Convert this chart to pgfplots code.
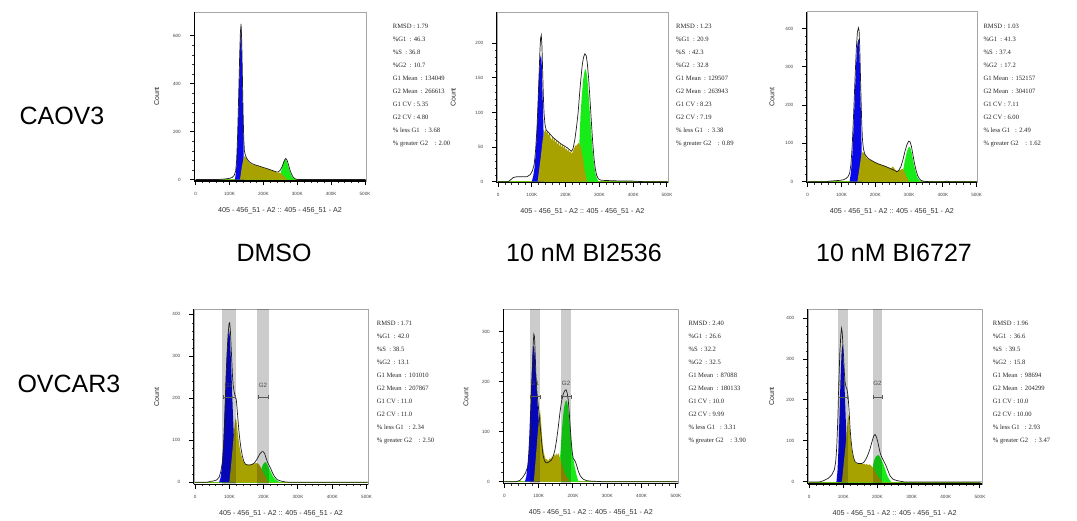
\documentclass[border=0pt]{standalone}
\usepackage{fontspec}
\setmainfont{Liberation Sans}
\newfontfamily\statfont{Liberation Serif}
\usepackage{pgfplots}
\pgfplotsset{compat=1.18}

\definecolor{g1blue}{RGB}{8,8,232}
\definecolor{sphase}{RGB}{168,162,0}
\definecolor{g2green}{RGB}{24,236,24}
\definecolor{curve}{RGB}{30,30,30}

\pgfplotsset{
  flow/.style={
    scale only axis, anchor=south west, clip=false,
    axis line style={black!35, line width=0.4pt},
    xtick={0,100,200,300,400,500},
    xticklabels={0,100K,200K,300K,400K,500K},
    minor x tick num=4, minor y tick num=4,
    tick align=outside, tick pos=left,
    major tick length=4.5pt, minor tick length=2.2pt,
    major tick style={black, line width=1pt},
    minor tick style={black!80, line width=0.4pt},
    xticklabel style={font=\fontsize{4.6}{5}\selectfont, text=black!75, yshift=-3pt},
    yticklabel style={font=\fontsize{4.6}{5}\selectfont, text=black!75, xshift=-5.5pt},
    /pgf/number format/assume math mode=true,
    xlabel={405 - 456\_51 - A2 :: 405 - 456\_51 - A2},
    xlabel style={at={(axis description cs:0.5,0)}, anchor=center, yshift=-29.5pt,
      font=\fontsize{7.2}{8}\selectfont, text=black!80},
  },
  g1/.style={fill=g1blue, draw=none},
  g2/.style={fill=g2green, draw=none},
  sp/.style={fill=sphase, draw=none},
  fit/.style={curve, line width=0.7pt},
}

% left and bottom axis lines
\newcommand{\flowframe}{%
  \draw[black, line width=0.5pt] (rel axis cs:0,0) -- (rel axis cs:0,1);
  \draw[black, line width=1.1pt] (rel axis cs:0,0) -- (rel axis cs:1,0);
  \addplot[sphase!60!g2green, line width=0.5pt] coordinates {(0,0) (500,0)};
}
% gate bracket: x1, x2, y
\newcommand{\gate}[3]{%
  \draw[black!65, line width=0.5pt] (axis cs:#1,#3) -- (axis cs:#2,#3);
  \draw[black!65, line width=0.5pt] (axis cs:#1,#3) ++(0pt,-2.2pt) -- ++(0pt,4.4pt);
  \draw[black!65, line width=0.5pt] (axis cs:#2,#3) ++(0pt,-2.2pt) -- ++(0pt,4.4pt);
}
% statistics column: x, baseline of first line (px from top), lines
\newcommand{\stats}[3]{%
  \foreach \t [count=\i from 0] in {#3} {
    \node[anchor=base west, inner sep=0pt, font=\statfont\fontsize{6.6}{8}\selectfont, text=black!85]
      at (#1pt, {(521-#2-13*\i)*1pt}) {\t};
  }
}

\begin{document}
\begin{tikzpicture}
\path[use as bounding box, fill=white] (0,0) rectangle (1077pt,521pt);

% ---------------- row labels and column titles
\node[anchor=west, font=\fontsize{25}{30}\selectfont] at (16pt,405pt) {CAOV3};
\node[anchor=west, font=\fontsize{25}{30}\selectfont] at (14pt,137pt) {OVCAR3};
\node[font=\fontsize{25}{30}\selectfont] at (274pt,268pt) {DMSO};
\node[font=\fontsize{25}{30}\selectfont] at (584pt,268pt) {10 nM BI2536};
\node[font=\fontsize{25}{30}\selectfont] at (894pt,268pt) {10 nM BI6727};

% ---------------- Count labels
\foreach \x/\y in {156.7/424.5, 453.3/423.5, 772/424, 156.7/124, 466/124, 771.7/124.5}
  \node[rotate=90, font=\fontsize{7}{8}\selectfont, text=black!85] at (\x pt,\y pt) {Count};

% ================= CAOV3 / DMSO
\begin{axis}[flow, at={(194.3pt,340pt)}, width=171.4pt, height=169pt,
  xmin=-4, xmax=502, ymin=-6, ymax=698, ytick={0,200,400,600}]
\flowframe
\addplot[g1] coordinates {(116,0) (119,30) (122,100) (125,220) (128,380) (131,540) (133,625) (134.5,630) (136,540) (138,390) (140,250) (141.5,160) (142,0)} -- cycle;
\addplot[g2] coordinates {(249,0) (251,25) (254,45) (257,62) (260,75) (263,82) (266,83) (269,76) (272,62) (276,44) (280,27) (284,14) (289,5) (294,0)} -- cycle;
\addplot[sp] coordinates {(131,0) (136,50) (140,80) (143,97) (146,95) (150,86) (155,76) (160,68) (165,64) (170,61) (175,60) (180,57) (185,58) (190,54) (195,52) (200,49) (205,47) (210,45) (215,43) (220,40) (225,38) (230,35) (235,33) (240,30) (245,30) (250,27) (255,22) (260,14) (265,7) (270,0)} -- cycle;
\addplot[fit] coordinates {(0,0) (60,0) (75,1) (90,3) (100,5) (108,9) (114,18) (118,35) (121,80) (124,190) (127,350) (130,520) (132,610) (134,648) (136,580) (138,430) (140,280) (142,170) (144,118) (147,100) (151,88) (156,78) (162,70) (170,64) (180,59) (190,55) (200,50) (210,46) (220,41) (230,36) (238,32) (244,32) (249,38) (254,50) (258,64) (262,80) (266,88) (270,80) (274,62) (278,42) (282,26) (287,12) (292,4) (298,1) (306,0) (502,0)};
\end{axis}

% ================= CAOV3 / BI2536
\begin{axis}[flow, at={(496.7pt,338.3pt)}, width=171.3pt, height=170.4pt,
  xmin=-4, xmax=503, ymin=-1.5, ymax=245, ytick={0,50,100,150,200}]
\flowframe
\addplot[g1] coordinates {(100,0) (104,8) (108,20) (112,45) (116,85) (119,125) (122,160) (125,180) (127,183) (129,175) (131,140) (133,105) (134.5,75) (135,0)} -- cycle;
\addplot[g2] coordinates {(236,0) (238,30) (241,60) (244,95) (248,125) (252,148) (256,160) (259,163) (262,158) (265,145) (268,125) (272,98) (276,70) (280,45) (284,26) (288,12) (293,4) (298,0)} -- cycle;
\addplot[sp] coordinates {(117,0) (125,30) (132,60) (137,72) (140,76) (143,70) (146,74) (149,66) (152,71) (155,64) (158,60) (161,66) (164,58) (167,63) (170,56) (173,60) (176,53) (179,58) (182,51) (185,55) (188,49) (191,54) (194,48) (197,51) (200,46) (203,48) (206,44) (209,46) (212,42) (215,44) (218,40) (221,43) (224,47) (227,50) (230,53) (233,52) (236,55) (239,56) (242,54) (245,50) (248,42) (252,30) (256,17) (260,7) (264,0)} -- cycle;
\addplot[fit] coordinates {(0,0) (30,0) (38,3) (45,6) (55,7) (70,7) (85,7) (95,10) (102,16) (107,25) (111,45) (115,75) (118,110) (121,150) (124,190) (126,208) (128,212) (130,195) (132,160) (134,125) (136,100) (139,82) (143,74) (148,72) (155,68) (165,63) (175,59) (185,55) (195,52) (205,49) (212,46) (218,44) (222,48) (227,60) (232,78) (237,100) (241,125) (245,148) (249,168) (253,180) (257,185) (261,182) (264,172) (268,150) (272,120) (276,88) (280,58) (284,34) (288,18) (292,9) (297,4) (305,2) (330,1.5) (360,1) (390,1) (410,0.5) (430,0) (503,0)};
\end{axis}

% ================= CAOV3 / BI6727
\begin{axis}[flow, at={(806.7pt,338.3pt)}, width=170.3pt, height=171pt,
  xmin=-3, xmax=501, ymin=-2.6, ymax=444, ytick={0,100,200,300,400}]
\flowframe
\addplot[g1] coordinates {(124,0) (128,25) (132,70) (136,150) (140,240) (144,320) (147,360) (150,373) (152,365) (154,310) (156,230) (158,150) (159.5,90) (160,0)} -- cycle;
\addplot[g2] coordinates {(281,0) (283,33) (286,48) (290,65) (294,80) (298,89) (301,91) (304,88) (307,78) (311,60) (315,42) (320,24) (325,11) (330,4) (336,0)} -- cycle;
\addplot[sp] coordinates {(147,0) (152,30) (157,60) (161,76) (165,77) (169,70) (173,64) (177,60) (182,58) (187,56) (192,54) (197,52) (202,50) (207,48) (212,46) (217,45) (222,43) (227,42) (232,40) (237,38) (242,36) (247,35) (252,40) (255,36) (260,30) (265,28) (270,30) (275,31) (280,34) (284,30) (288,22) (292,14) (296,7) (300,0)} -- cycle;
\addplot[fit] coordinates {(0,0) (55,0) (65,1.5) (80,2.5) (95,3.5) (105,5) (113,8) (119,13) (124,22) (128,45) (132,100) (136,180) (140,270) (144,350) (147,390) (150,402) (152,395) (154,350) (156,280) (158,210) (160,150) (162,110) (165,85) (169,72) (174,66) (180,60) (190,55) (200,50) (210,46) (220,43) (230,40) (240,36) (250,32) (258,29) (264,26) (270,30) (276,40) (282,58) (288,80) (294,98) (299,106) (303,104) (307,92) (311,72) (315,52) (320,32) (325,17) (330,8) (336,3) (345,1) (360,0) (405,0) (412,1.5) (420,0) (501,0)};
\end{axis}

% ================= OVCAR3 / DMSO
\begin{axis}[flow, at={(193.7pt,36.7pt)}, width=174.6pt, height=175pt,
  xmin=-4, xmax=505, ymin=-4.8, ymax=412, ytick={0,100,200,300,400}]
\flowframe
\addplot[g1] coordinates {(70,0) (74,10) (78,35) (82,85) (86,160) (90,250) (94,320) (97,355) (99,363) (101,350) (104,300) (107,240) (110,170) (113,110) (116,60) (118,0)} -- cycle;
\addplot[g2] coordinates {(190,0) (192,22) (195,36) (198,42) (201,46) (204,48) (207,47) (211,42) (215,35) (219,28) (223,21) (228,13) (234,7) (241,3) (248,0)} -- cycle;
\addplot[sp] coordinates {(100,0) (105,40) (110,85) (114,125) (117,148) (119,153) (121,145) (124,120) (127,100) (130,83) (134,66) (138,55) (142,48) (146,44) (150,43) (155,42) (160,42) (165,43) (170,44) (175,45) (180,46) (184,44) (188,40) (192,35) (196,28) (200,21) (205,13) (210,6) (216,0)} -- cycle;
\fill[black, fill opacity=0.2] (axis cs:79,-4.8) rectangle (axis cs:119.5,412);
\fill[black, fill opacity=0.2] (axis cs:181.6,-4.8) rectangle (axis cs:215,412);
\addplot[fit] coordinates {(0,0) (35,0) (44,2) (53,3) (63,5.5) (70,12) (75,25) (80,50) (84,100) (87,170) (90,245) (93,305) (96,350) (99,378) (101,380) (103,360) (105,325) (107,290) (109,255) (111,232) (114,215) (117,205) (120,198) (122,180) (125,150) (128,120) (131,98) (134,80) (138,62) (142,50) (147,43) (153,41) (160,41) (167,43) (173,46) (179,53) (185,62) (190,69) (195,73) (199,73) (203,68) (207,58) (211,48) (216,40) (221,32) (226,22) (232,13) (240,6) (250,3) (262,1) (275,0) (505,0)};
\gate{81}{117}{203}
\gate{183}{214}{203}
\node[font=\fontsize{6.2}{7}\selectfont, text=black!70] at (axis cs:98,232) {G1};
\node[font=\fontsize{6.2}{7}\selectfont, text=black!70] at (axis cs:198,232) {G2};
\end{axis}

% ================= OVCAR3 / BI2536
\begin{axis}[flow, at={(503.3pt,37.3pt)}, width=175pt, height=174.4pt,
  xmin=-3, xmax=507, ymin=-4, ymax=345, ytick={0,100,200,300}]
\flowframe
\addplot[g1] coordinates {(60,0) (64,10) (68,35) (72,80) (76,150) (80,220) (83,262) (85,273) (87,268) (90,240) (93,200) (96,165) (99,135) (102,110) (104,0)} -- cycle;
\addplot[g2] coordinates {(160,0) (162,45) (165,75) (168,105) (171,130) (174,148) (177,158) (180,163) (183,160) (186,148) (189,128) (192,105) (195,82) (198,62) (201,46) (204,34) (207,24) (210,15) (213,7) (216,0)} -- cycle;
\addplot[sp] coordinates {(86,0) (92,50) (97,95) (101,125) (104,143) (106,130) (108,110) (110,90) (112,72) (115,58) (118,50) (121,44) (124,46) (127,41) (130,44) (133,48) (136,44) (139,52) (142,48) (145,55) (148,51) (151,57) (154,52) (157,58) (160,52) (163,45) (167,35) (172,24) (178,14) (185,6) (192,0)} -- cycle;
\fill[black, fill opacity=0.2] (axis cs:75.8,-4) rectangle (axis cs:104,345);
\fill[black, fill opacity=0.2] (axis cs:165,-4) rectangle (axis cs:194,345);
\addplot[fit] coordinates {(0,0) (35,0) (46,3) (55,10) (62,18) (68,30) (73,55) (76,95) (79,160) (82,230) (84,275) (86,295) (88,290) (90,255) (92,215) (95,180) (98,158) (101,138) (104,115) (107,92) (110,70) (113,52) (117,42) (121,38) (126,38) (131,40) (137,43) (142,50) (147,62) (152,82) (157,108) (162,138) (167,162) (172,176) (177,183) (180,184) (183,178) (186,165) (189,140) (192,110) (195,80) (198,58) (201,46) (204,44) (207,40) (211,32) (216,20) (222,11) (230,5) (240,2) (255,1) (275,0.5) (285,0) (507,0)};
\gate{76}{104}{170}
\gate{165}{196}{170}
\node[font=\fontsize{6.2}{7}\selectfont, text=black!70] at (axis cs:89,197) {G1};
\node[font=\fontsize{6.2}{7}\selectfont, text=black!70] at (axis cs:180,197) {G2};
\end{axis}

% ================= OVCAR3 / BI6727
\begin{axis}[flow, at={(807.7pt,37pt)}, width=174pt, height=175pt,
  xmin=-4, xmax=505, ymin=-4.9, ymax=422, ytick={0,100,200,300,400}]
\flowframe
\addplot[g1] coordinates {(80,0) (83,25) (86,80) (89,160) (92,250) (95,315) (97,335) (99,328) (101,295) (103,250) (105,205) (107,160) (109,115) (111,75) (113,35) (114,0)} -- cycle;
\addplot[g2] coordinates {(185,0) (187,40) (190,52) (194,60) (198,64) (202,66) (206,63) (210,57) (214,50) (218,42) (222,32) (226,22) (230,13) (235,6) (240,0)} -- cycle;
\addplot[sp] coordinates {(96,0) (102,50) (108,100) (112,140) (115,167) (117,150) (119,128) (122,100) (125,78) (129,60) (133,50) (137,46) (141,45) (145,47) (149,44) (153,46) (157,43) (161,45) (165,42) (169,44) (173,41) (177,43) (181,40) (185,37) (189,32) (193,26) (198,18) (204,10) (210,4) (216,0)} -- cycle;
\fill[black, fill opacity=0.2] (axis cs:84,-4.9) rectangle (axis cs:113,422);
\fill[black, fill opacity=0.2] (axis cs:188,-4.9) rectangle (axis cs:212.6,422);
\addplot[fit] coordinates {(0,0) (30,0) (42,3) (56,9) (66,17) (74,30) (78,50) (81,86) (84,150) (87,240) (90,315) (93,360) (95,375) (97,365) (99,335) (101,305) (103,270) (105,245) (108,232) (111,226) (114,210) (117,175) (120,130) (123,100) (126,78) (130,60) (134,50) (140,46) (147,45) (154,45) (160,48) (166,55) (172,66) (178,80) (184,98) (189,112) (193,116) (197,110) (201,98) (205,82) (209,68) (214,58) (219,50) (225,40) (231,27) (237,15) (245,7) (255,4) (265,2) (280,0) (505,0)};
\gate{84}{113}{207}
\gate{188}{213}{207}
\node[font=\fontsize{6.2}{7}\selectfont, text=black!70] at (axis cs:97,241) {G1};
\node[font=\fontsize{6.2}{7}\selectfont, text=black!70] at (axis cs:200,241) {G2};
\end{axis}

% ---------------- model statistics
\stats{392.7}{29}{RMSD : 1.79, \%G1\ \ : 46.3, \%S\ \ : 36.8, \%G2\ \ : 10.7, G1 Mean\ \ : 134049, G2 Mean\ \ : 266613, G1 CV : 5.35, G2 CV : 4.80, \% less G1\ \ \ : 3.68, \% greater G2\ \ \ \ : 2.00}
\stats{676}{29}{RMSD : 1.23, \%G1\ \ : 20.9, \%S\ \ : 42.3, \%G2\ \ : 32.8, G1 Mean\ \ : 129507, G2 Mean\ \ : 263943, G1 CV : 8.23, G2 CV : 7.19, \% less G1\ \ \ : 3.38, \% greater G2\ \ \ \ : 0.89}
\stats{983.3}{29}{RMSD : 1.03, \%G1\ \ : 41.3, \%S\ \ : 37.4, \%G2\ \ : 17.2, G1 Mean\ \ : 152157, G2 Mean\ \ : 304107, G1 CV : 7.11, G2 CV : 6.00, \% less G1\ \ \ : 2.49, \% greater G2\ \ \ \ : 1.62}
\stats{376.7}{325.6}{RMSD : 1.71, \%G1\ \ : 42.0, \%S\ \ : 38.5, \%G2\ \ : 13.1, G1 Mean\ \ : 101010, G2 Mean\ \ : 207867, G1 CV : 11.0, G2 CV : 11.0, \% less G1\ \ \ : 2.34, \% greater G2\ \ \ \ : 2.50}
\stats{688.3}{325.6}{RMSD : 2.40, \%G1\ \ : 26.6, \%S\ \ : 32.2, \%G2\ \ : 32.5, G1 Mean\ \ : 87088, G2 Mean\ \ : 180133, G1 CV : 10.0, G2 CV : 9.99, \% less G1\ \ \ : 3.31, \% greater G2\ \ \ \ : 3.90}
\stats{992.7}{325.6}{RMSD : 1.96, \%G1\ \ : 36.6, \%S\ \ : 39.5, \%G2\ \ : 15.8, G1 Mean\ \ : 98694, G2 Mean\ \ : 204299, G1 CV : 10.0, G2 CV : 10.00, \% less G1\ \ \ : 2.93, \% greater G2\ \ \ \ : 3.47}
\end{tikzpicture}
\end{document}
